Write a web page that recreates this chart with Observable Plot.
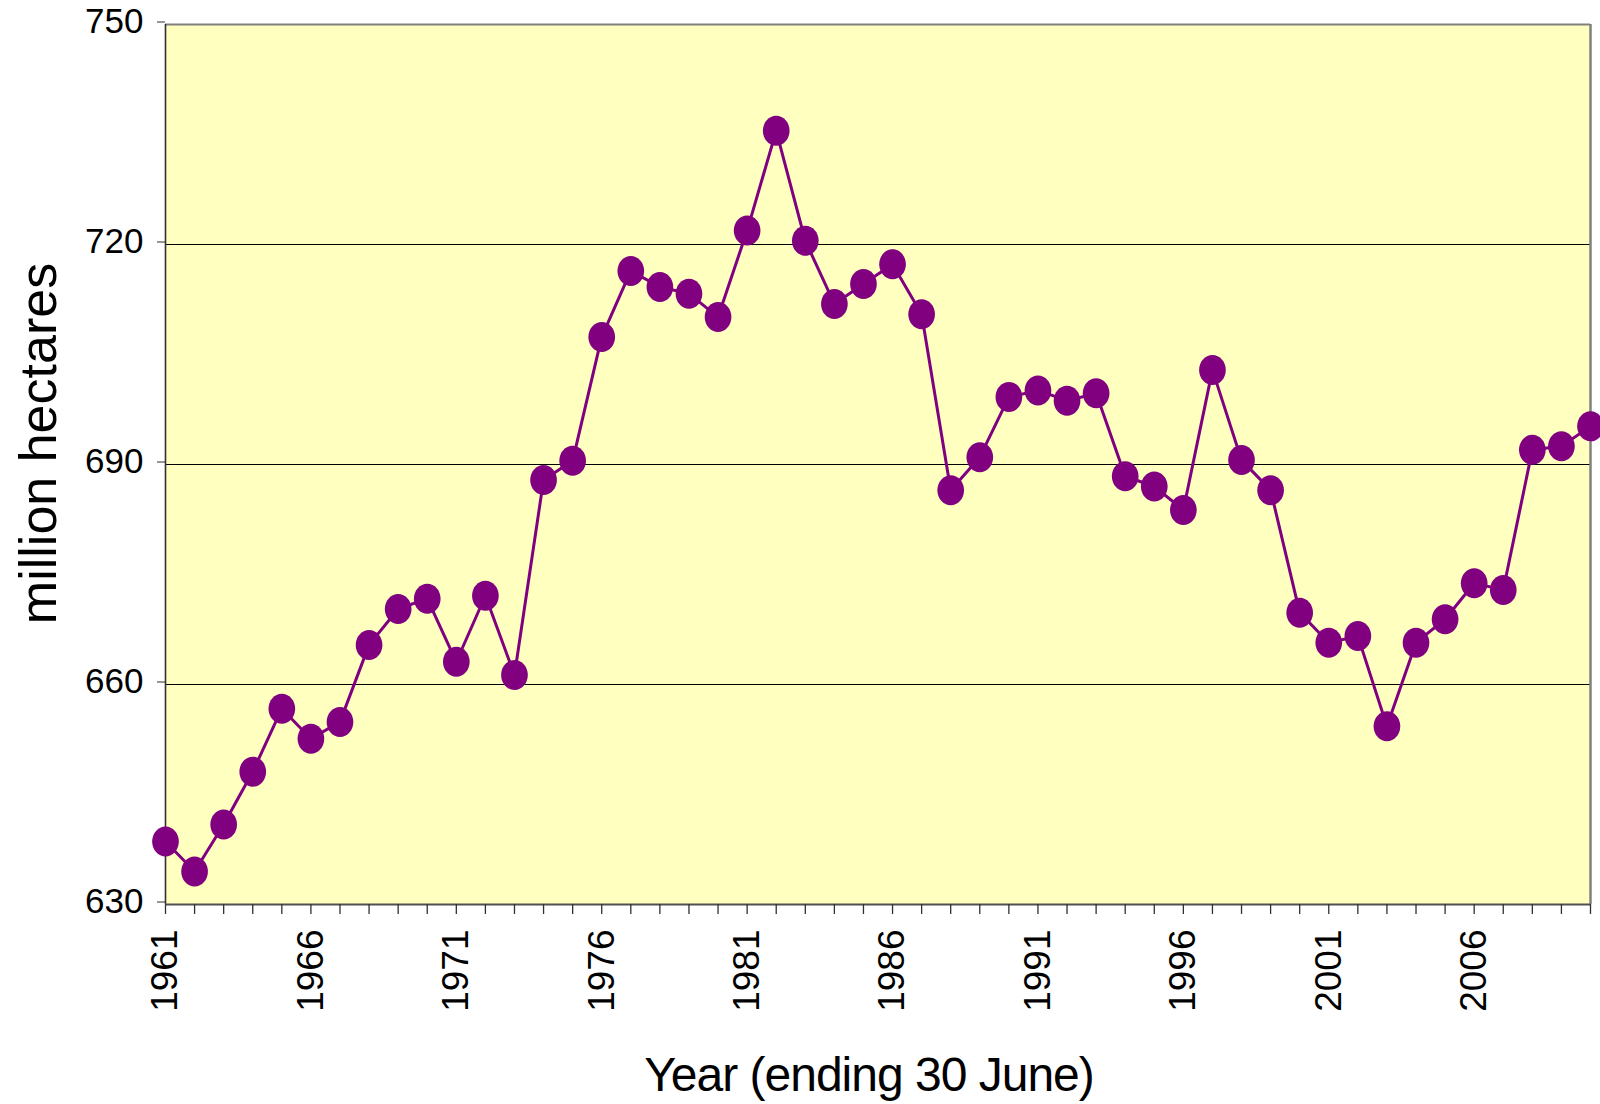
<!DOCTYPE html>
<html>
<head>
<meta charset="utf-8">
<script src="https://cdn.jsdelivr.net/npm/d3@7"></script>
<script src="https://cdn.jsdelivr.net/npm/@observablehq/plot@0.6"></script>
<style>
  html, body { margin: 0; padding: 0; background: #ffffff; }
  #chart { width: 1600px; height: 1104px; overflow: hidden; }
</style>
</head>
<body>
<div id="chart"></div>
<script>
// ---- Data ----
const years = [
  1961, 1962, 1963, 1964, 1965, 1966, 1967, 1968, 1969, 1970,
  1971, 1972, 1973, 1974, 1975, 1976, 1977, 1978, 1979, 1980,
  1981, 1982, 1983, 1984, 1985, 1986, 1987, 1988, 1989, 1990,
  1991, 1992, 1993, 1994, 1995, 1996, 1997, 1998, 1999, 2000,
  2001, 2002, 2003, 2004, 2005, 2006, 2007, 2008, 2009, 2010
];
const hectares = [
  638.6, 634.5, 640.9, 648.1, 656.7, 652.6, 654.9, 665.4, 670.3, 671.7,
  663.1, 672.1, 661.3, 687.9, 690.5, 707.4, 716.4, 714.2, 713.3, 710.1,
  721.9, 735.5, 720.5, 711.9, 714.6, 717.3, 710.5, 686.5, 691.0, 699.2,
  700.1, 698.7, 699.7, 688.4, 687.0, 683.8, 702.9, 690.6, 686.5, 669.8,
  665.7, 666.6, 654.3, 665.7, 668.9, 673.8, 672.9, 692.0, 692.5, 695.2
];
const xTickLabels = [1961, 1966, 1971, 1976, 1981, 1986, 1991, 1996, 2001, 2006];
const yTicks = [630, 660, 690, 720, 750];
const gridValues = [660, 690, 720];
const yLabel = "million hectares";
const xLabel = "Year (ending 30 June)";

const data = years.map((year, i) => ({year, value: hectares[i]}));

// Ellipse-shaped marker (slightly taller than wide), as in the original
const ellipse = {
  draw(context, size) {
    const r = Math.sqrt(size / Math.PI);
    const ry = r, rx = r * 0.89, k = 0.5523;
    context.moveTo(rx, 0);
    context.bezierCurveTo(rx, k * ry, k * rx, ry, 0, ry);
    context.bezierCurveTo(-k * rx, ry, -rx, k * ry, -rx, 0);
    context.bezierCurveTo(-rx, -k * ry, -k * rx, -ry, 0, -ry);
    context.bezierCurveTo(k * rx, -ry, rx, -k * ry, rx, 0);
    context.closePath();
  }
};

const purple = "#800080";

const chart = Plot.plot({
  width: 1600,
  height: 1104,
  marginLeft: 165,
  marginRight: 10,
  marginTop: 24,
  marginBottom: 200,
  style: {fontFamily: "'Liberation Sans', Arial, sans-serif", background: "#ffffff", color: "#000000"},
  x: {domain: [1961, 2010], type: "linear"},
  y: {domain: [630, 750], type: "linear"},
  marks: [
    Plot.frame({fill: "#FFFFC0", stroke: null}),
    Plot.gridY(gridValues, {stroke: "#000000", strokeOpacity: 1, strokeWidth: 1}),
    Plot.ruleY([750], {stroke: "#808080", strokeWidth: 2}),
    Plot.ruleX([2010], {stroke: "#808080", strokeWidth: 2.5}),
    Plot.ruleX([1961], {stroke: "#303030", strokeWidth: 1.6}),
    Plot.ruleY([630], {stroke: "#505050", strokeWidth: 2}),
    Plot.axisY({ticks: yTicks, tickSize: 8, tickPadding: 14, fontSize: 35, dy: -2.5,
                tickFormat: d3.format("d"), label: null, stroke: "#303030"}),
    Plot.axisX({ticks: years, tickSize: 10, tickFormat: () => "", label: null,
                stroke: "#303030", strokeWidth: 1.3}),
    Plot.axisX({ticks: xTickLabels, tickSize: 0, tickPadding: 25, tickRotate: -90,
                fontSize: 37, tickFormat: d3.format("d"), label: null}),
    Plot.line(data, {x: "year", y: "value", stroke: purple, strokeWidth: 3}),
    Plot.dot(data, {x: "year", y: "value", r: 15, symbol: ellipse, fill: purple, stroke: null}),
    Plot.text([yLabel], {frameAnchor: "left", rotate: -90, dx: -126, dy: -21,
                         fontSize: 52, fill: "#000000", textAnchor: "middle", lineAnchor: "middle"}),
    Plot.text([xLabel], {frameAnchor: "bottom", dx: -9, dy: 171.5,
                         fontSize: 48, fill: "#000000", textAnchor: "middle", lineAnchor: "middle"})
  ]
});

d3.select(chart).selectAll("text")
  .filter(function () { return this.textContent === xLabel; })
  .attr("letter-spacing", "-1.0");

document.getElementById("chart").appendChild(chart);
</script>
</body>
</html>
